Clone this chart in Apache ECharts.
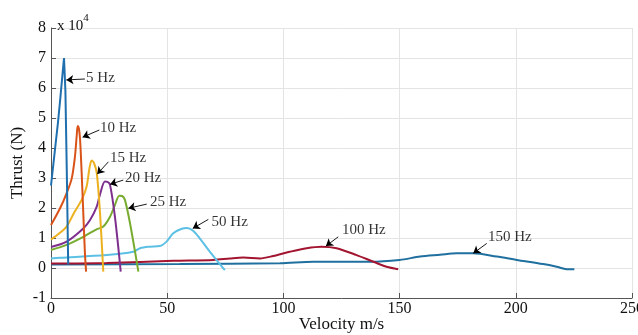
<!DOCTYPE html>
<html>
<head>
<meta charset="utf-8">
<script src="https://cdn.jsdelivr.net/npm/echarts/dist/echarts.min.js"></script>
<style>html,body{margin:0;padding:0;background:#fff;}#c{width:638px;height:335px;}</style>
</head>
<body>
<div id="c"></div>
<script>
// Velocity (m/s) and thrust (x 10^4 N) for each frequency
const f5X   = [0, 1, 2, 3, 4, 5, 5.6, 6.2, 6.8, 7.4];
const f5Y   = [2.75, 3.45, 4.15, 4.85, 5.65, 6.5, 7.0, 5.9, 3.2, 0.12];
const f10X  = [0, 3.9, 6.7, 8.9, 10.3, 11.1, 11.5, 12.0, 12.5, 13.2, 13.9, 14.6, 15.1];
const f10Y  = [1.43, 1.99, 2.49, 2.98, 3.71, 4.45, 4.73, 4.65, 4.3, 3.16, 1.82, 0.49, -0.12];
const f15X  = [0, 3.5, 6.7, 10.0, 13.2, 15.3, 16.6, 17.5, 18.5, 19.7, 21.1, 22.5];
const f15Y  = [0.95, 1.15, 1.38, 1.85, 2.27, 2.71, 3.35, 3.58, 3.5, 3.16, 1.82, -0.12];
const f20X  = [0, 6.7, 13.9, 16.8, 19.6, 21.0, 23.2, 24.3, 25.4, 27.5, 30.0];
const f20Y  = [0.7, 0.88, 1.32, 1.6, 2.03, 2.43, 2.88, 2.87, 2.77, 1.71, -0.12];
const f25X  = [0, 6.7, 13.9, 19.6, 22.5, 25.4, 27.5, 29.4, 30.6, 31.8, 34.0, 37.6];
const f25Y  = [0.6, 0.77, 1.04, 1.29, 1.38, 1.71, 2.1, 2.41, 2.4, 2.27, 1.49, -0.12];
const f50X  = [0, 3.9, 24, 35.4, 38.3, 42.5, 46.8, 49.7, 52.6, 56, 58.5, 61, 64, 68.4, 74.8];
const f50Y  = [0.32, 0.34, 0.43, 0.54, 0.66, 0.71, 0.73, 0.88, 1.16, 1.3, 1.33, 1.25, 0.99, 0.54, -0.07];
const f100X = [0, 24, 52.6, 69.8, 77, 82.7, 89.9, 95.6, 102.7, 110, 116.4, 122.9, 131.5, 138.7, 144.4, 149.4];
const f100Y = [0.15, 0.17, 0.24, 0.27, 0.32, 0.35, 0.32, 0.4, 0.54, 0.66, 0.71, 0.66, 0.43, 0.21, 0.04, -0.04];
const f150X = [0, 55.4, 98.5, 112.9, 137.3, 150, 158.8, 167.4, 174.5, 181.7, 191.8, 200.4, 211.8, 217.6, 221.9, 225.2];
const f150Y = [0.12, 0.13, 0.16, 0.21, 0.21, 0.27, 0.38, 0.44, 0.49, 0.49, 0.38, 0.27, 0.13, 0.04, -0.04, -0.04];

const seriesNames  = ['5 Hz', '10 Hz', '15 Hz', '20 Hz', '25 Hz', '50 Hz', '100 Hz', '150 Hz'];
const seriesX = [f5X, f10X, f15X, f20X, f25X, f50X, f100X, f150X];
const seriesY = [f5Y, f10Y, f15Y, f20Y, f25Y, f50Y, f100Y, f150Y];

// Annotations (data coordinates)
const annText  = ['5 Hz', '10 Hz', '15 Hz', '20 Hz', '25 Hz', '50 Hz', '100 Hz', '150 Hz'];
const annTextX = [15.1, 21.1, 25.4, 31.8, 42.6, 69.1, 125.2, 188.0];
const annTextY = [6.33, 4.67, 3.67, 3.0, 2.21, 1.54, 1.27, 1.02];
const annTailX = [14.6, 20.8, 24.7, 31.1, 41.2, 67.7, 123.6, 187.5];
const annTailY = [6.3, 4.6, 3.54, 2.93, 2.13, 1.62, 1.04, 0.82];
const annHeadX = [6.6, 13.6, 19.9, 25.4, 33.3, 61.0, 118.3, 181.7];
const annHeadY = [6.27, 4.36, 3.13, 2.79, 1.99, 1.32, 0.73, 0.49];

const xTicks = [0, 50, 100, 150, 200, 250];
const yTicks = [-1, 0, 1, 2, 3, 4, 5, 6, 7, 8];

const colors = ['#1f6fae', '#d95319', '#edb120', '#7e2f8e', '#77ac30', '#5cc0e4', '#a2142f', '#1f6f9f'];
const FONT = '"Liberation Serif", "Times New Roman", serif';

const series = seriesNames.map((n, i) => ({
  name: n,
  type: 'line',
  data: seriesX[i].map((x, k) => [x, seriesY[i][k]]),
  showSymbol: false,
  smooth: i === 0 ? false : 0.3,
  lineStyle: { width: 2, color: colors[i] },
  itemStyle: { color: colors[i] },
  z: 3 + (8 - i) * 0.1
}));

series.push({
  type: 'line',
  data: [],
  silent: true,
  markLine: {
    silent: true,
    symbol: ['none', 'arrow'],
    symbolSize: 7,
    label: { show: false },
    lineStyle: { color: '#000', width: 0.9, type: 'solid' },
    data: annText.map((t, i) => [
      { coord: [annTailX[i], annTailY[i]] },
      { coord: [annHeadX[i], annHeadY[i]] }
    ])
  },
  z: 6
});

series.push({
  type: 'scatter',
  symbolSize: 0,
  silent: true,
  data: annText.map((t, i) => ({ value: [annTextX[i], annTextY[i]], name: t })),
  label: {
    show: true,
    position: 'right',
    distance: 0,
    formatter: p => p.name,
    color: '#000',
    fontFamily: FONT,
    fontSize: 15
  },
  z: 7
});

const chart = echarts.init(document.getElementById('c'), null, { renderer: 'canvas' });
chart.setOption({
  animation: false,
  backgroundColor: '#fff',
  title: {
    text: '{a|x 10}{b|4}',
    left: 52,
    top: 8,
    textStyle: {
      fontWeight: 'normal',
      rich: {
        a: { fontFamily: FONT, fontSize: 15, fontWeight: 'normal', color: '#111', padding: [6, 0, 0, 0] },
        b: { fontFamily: FONT, fontSize: 11, fontWeight: 'normal', color: '#111', verticalAlign: 'top' }
      }
    }
  },
  grid: { left: 51, right: 6, top: 28, bottom: 37, containLabel: false, outerBoundsMode: 'none' },
  xAxis: {
    type: 'value',
    min: xTicks[0],
    max: xTicks[xTicks.length - 1],
    interval: xTicks[1] - xTicks[0],
    name: 'Velocity m/s',
    nameLocation: 'middle',
    nameGap: 18,
    nameMoveOverlap: false,
    nameTextStyle: { fontFamily: FONT, fontSize: 17, color: '#111' },
    axisLine: { show: true, onZero: false, lineStyle: { color: '#555', width: 1 } },
    axisTick: { show: true, inside: true, length: 5, lineStyle: { color: '#555' } },
    axisLabel: { fontFamily: FONT, fontSize: 16, color: '#111', margin: 3, showMaxLabel: true },
    splitLine: { show: true, lineStyle: { color: '#e4e4e4', width: 1 } }
  },
  yAxis: {
    type: 'value',
    min: yTicks[0],
    max: yTicks[yTicks.length - 1],
    interval: 1,
    name: 'Thrust (N)',
    nameLocation: 'middle',
    nameGap: 25,
    nameMoveOverlap: false,
    nameTextStyle: { fontFamily: FONT, fontSize: 17, color: '#111' },
    axisLine: { show: true, onZero: false, lineStyle: { color: '#555', width: 1 } },
    axisTick: { show: true, inside: true, length: 5, lineStyle: { color: '#555' } },
    axisLabel: { fontFamily: FONT, fontSize: 16, color: '#111', margin: 5 },
    splitLine: { show: true, lineStyle: { color: '#e4e4e4', width: 1 } }
  },
  series: series
});
</script>
</body>
</html>
